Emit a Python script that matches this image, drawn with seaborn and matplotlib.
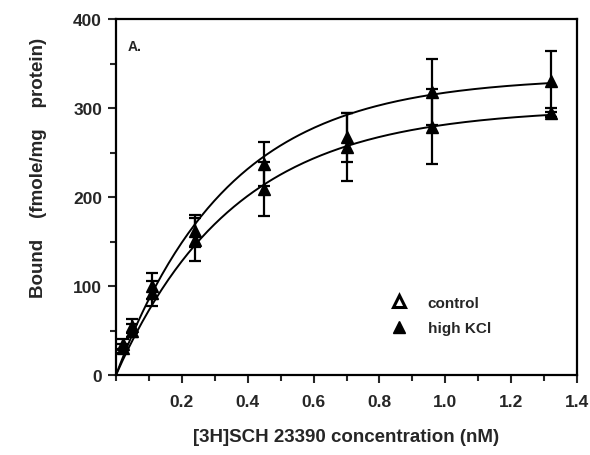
import matplotlib
matplotlib.use("Agg")
import matplotlib.pyplot as plt
from matplotlib.lines import Line2D
from matplotlib.ticker import MultipleLocator
import seaborn as sns
import pandas as pd
import numpy as np

# --- data ---
conc = [0.02, 0.05, 0.11, 0.24, 0.45, 0.70, 0.96, 1.32]

control = [35, 55, 100, 162, 237, 267, 318, 330]
control_err = [6, 8, 15, 18, 25, 28, 37, 34]

high_kcl = [30, 50, 92, 152, 209, 256, 279, 295]
high_kcl_err = [5, 7, 14, 24, 30, 38, 42, 5]

# saturation fit parameters (Bmax, k) for the drawn curves
fit_control = (335, 2.94)
fit_high_kcl = (300, 2.78)

# --- style ---
sns.set_theme(style="ticks")
plt.rcParams['font.family'] = ['Liberation Sans', 'DejaVu Sans']
plt.rcParams['font.weight'] = 'bold'

fig = plt.figure(figsize=(5.9, 4.56), dpi=100)
ax = fig.add_axes([0.1966, 0.1754, 0.7814, 0.7806])

# fitted curves
xs = np.linspace(0, 1.32, 200)
curves = pd.DataFrame({
    'x': np.concatenate([xs, xs]),
    'y': np.concatenate([fit_control[0] * (1 - np.exp(-fit_control[1] * xs)),
                         fit_high_kcl[0] * (1 - np.exp(-fit_high_kcl[1] * xs))]),
    'grp': ['control'] * len(xs) + ['high KCl'] * len(xs),
})
sns.lineplot(data=curves, x='x', y='y', units='grp', estimator=None,
             color='black', lw=1.4, ax=ax, legend=False)

# data points with error bars
for vals, err in [(control, control_err), (high_kcl, high_kcl_err)]:
    ax.errorbar(conc, vals, yerr=err, fmt='^', color='black', ms=9,
                capsize=4, elinewidth=1.6, capthick=1.6, zorder=3)

ax.set_xlim(0, 1.4)
ax.set_ylim(0, 400)
ax.xaxis.set_major_locator(MultipleLocator(0.2))
ax.xaxis.set_minor_locator(MultipleLocator(0.1))
ax.yaxis.set_major_locator(MultipleLocator(100))
ax.yaxis.set_minor_locator(MultipleLocator(50))
ax.set_xticks([0.2, 0.4, 0.6, 0.8, 1.0, 1.2, 1.4])
ax.set_xticklabels(['0.2', '0.4', '0.6', '0.8', '1.0', '1.2', '1.4'])
ax.tick_params(which='major', length=6, width=1.5, labelsize=12.5, direction='out', pad=4)
ax.tick_params(which='minor', length=4, width=1.5, direction='out')
ax.tick_params(axis='x', pad=8)
for s in ax.spines.values():
    s.set_linewidth(1.6)
    s.set_color('black')

ax.set_xlabel('[3H]SCH 23390 concentration (nM)', fontsize=13.5, fontweight='bold', labelpad=13)
ax.set_ylabel('Bound    (fmole/mg    protein)', fontsize=13.5, fontweight='bold')
ax.yaxis.set_label_coords(-0.15, 0.584)

ax.text(0.035, 370, 'A.', fontsize=10, fontweight='bold', va='center')

handles = [
    Line2D([], [], marker='^', ls='none', mfc='white', mec='black', mew=2.2, ms=8),
    Line2D([], [], marker='^', ls='none', color='black', ms=9),
]
ax.legend(handles, ['control', 'high KCl'], loc='center left', bbox_to_anchor=(0.55, 0.167),
          frameon=False, fontsize=11, handletextpad=0.9, labelspacing=0.75)

fig.savefig('out.png', dpi=100)
